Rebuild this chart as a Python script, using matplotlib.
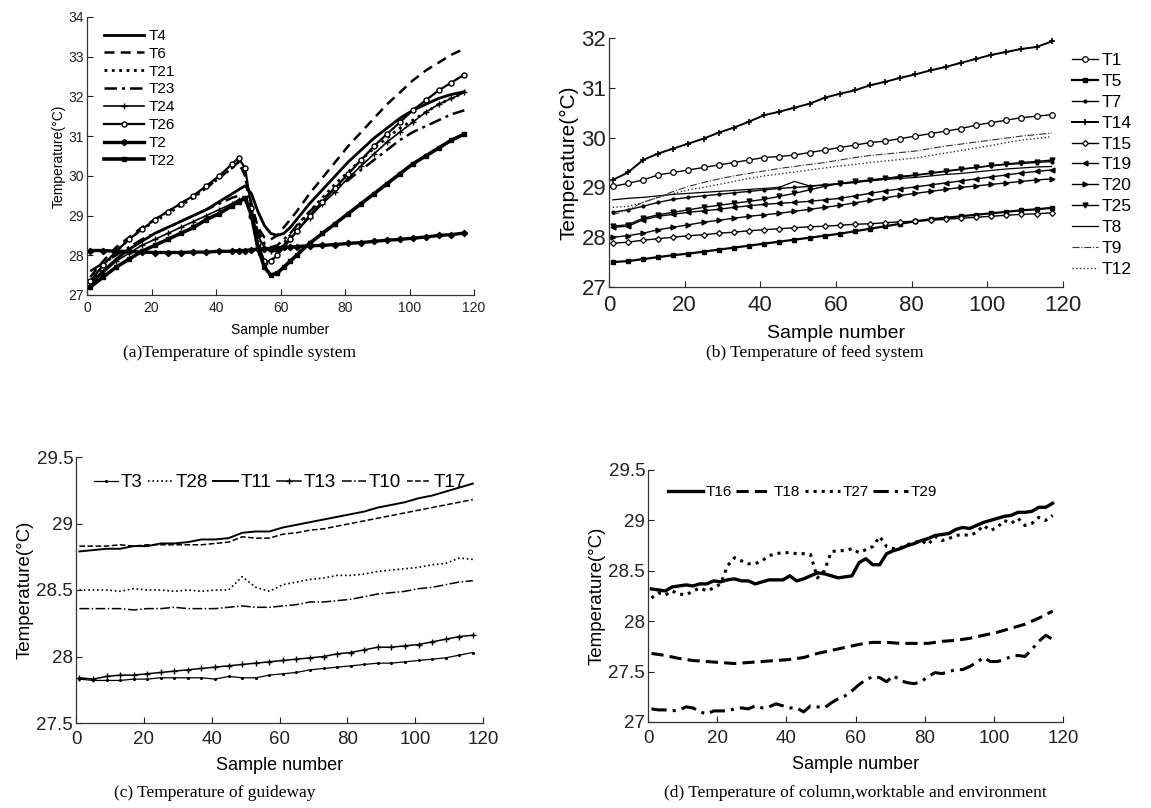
import matplotlib
matplotlib.use('Agg')
import matplotlib.pyplot as plt

plt.rcParams['font.family'] = ['Liberation Sans', 'DejaVu Sans']

# ---------------- Panel (a): spindle system ----------------
x_a = [1, 5, 9, 13, 17, 21, 25, 29, 33, 37, 41, 45, 47, 49, 51, 53, 55, 57, 59, 61, 63, 65,
       69, 73, 77, 81, 85, 89, 93, 97, 101, 105, 109, 113, 117]
T4 = [27.3, 27.6, 27.9, 28.15, 28.35, 28.55, 28.7, 28.85, 29.0, 29.15, 29.35, 29.55, 29.65, 29.75,
      29.55, 29.1, 28.75, 28.55, 28.5, 28.55, 28.7, 28.9, 29.3, 29.65, 30.0, 30.35, 30.65, 30.95,
      31.2, 31.45, 31.65, 31.8, 31.95, 32.05, 32.12]
T6 = [27.45, 27.85, 28.2, 28.45, 28.7, 28.9, 29.1, 29.3, 29.5, 29.7, 29.95, 30.2, 30.35, 30.0,
      29.3, 28.7, 28.45, 28.4, 28.5, 28.7, 28.9, 29.1, 29.55, 29.95, 30.35, 30.75, 31.1, 31.45,
      31.8, 32.1, 32.4, 32.65, 32.85, 33.05, 33.2]
T21 = [27.3, 27.7, 28.1, 28.4, 28.65, 28.85, 29.05, 29.25, 29.45, 29.7, 29.95, 30.2, 30.35, 30.05,
       29.0, 28.1, 27.75, 27.85, 28.05, 28.3, 28.5, 28.7, 29.1, 29.45, 29.8, 30.1, 30.4, 30.7,
       30.95, 31.2, 31.4, 31.6, 31.8, 31.95, 32.1]
T23 = [27.6, 27.8, 28.0, 28.2, 28.4, 28.55, 28.7, 28.85, 29.0, 29.15, 29.3, 29.45, 29.5, 29.45,
       29.1, 28.6, 28.3, 28.2, 28.25, 28.4, 28.55, 28.75, 29.1, 29.4, 29.7, 29.9, 30.15, 30.4,
       30.65, 30.9, 31.1, 31.25, 31.4, 31.55, 31.65]
T24 = [27.25, 27.55, 27.85, 28.05, 28.25, 28.4, 28.55, 28.7, 28.85, 29.0, 29.15, 29.3, 29.4, 29.4,
       29.0, 28.5, 28.2, 28.1, 28.1, 28.25, 28.4, 28.6, 28.95, 29.3, 29.6, 29.95, 30.25, 30.55,
       30.85, 31.1, 31.35, 31.6, 31.8, 31.95, 32.1]
T26 = [27.35, 27.75, 28.1, 28.4, 28.65, 28.9, 29.1, 29.3, 29.5, 29.75, 30.0, 30.3, 30.45, 30.2,
       29.2, 28.3, 27.85, 27.85, 28.0, 28.2, 28.4, 28.6, 29.0, 29.35, 29.7, 30.05, 30.4, 30.75,
       31.05, 31.35, 31.65, 31.9, 32.15, 32.35, 32.55]
T2 = [28.12, 28.12, 28.1, 28.1, 28.08, 28.07, 28.07, 28.07, 28.08, 28.08, 28.1, 28.1, 28.12, 28.12,
      28.14, 28.15, 28.16, 28.17, 28.18, 28.2, 28.2, 28.22, 28.24, 28.25, 28.27, 28.3, 28.32, 28.35,
      28.38, 28.4, 28.43, 28.46, 28.5, 28.52, 28.56]
T22 = [27.2, 27.45, 27.7, 27.9, 28.1, 28.25, 28.4, 28.55, 28.7, 28.9, 29.05, 29.25, 29.35, 29.45,
       29.0, 28.2, 27.7, 27.5, 27.55, 27.7, 27.85, 28.0, 28.3, 28.55, 28.8, 29.05, 29.3, 29.55,
       29.8, 30.05, 30.3, 30.5, 30.7, 30.9, 31.05]

# ---------------- Panel (b): feed system ----------------
x_b = [1, 5, 9, 13, 17, 21, 25, 29, 33, 37, 41, 45, 49, 53, 57, 61, 65, 69, 73, 77, 81, 85, 89,
       93, 97, 101, 105, 109, 113, 117]
T1 = [29.02, 29.08, 29.15, 29.25, 29.3, 29.35, 29.4, 29.45, 29.5, 29.55, 29.6, 29.62, 29.65, 29.7,
      29.75, 29.8, 29.85, 29.9, 29.93, 29.98, 30.03, 30.08, 30.13, 30.18, 30.25, 30.3, 30.35, 30.4,
      30.43, 30.46]
T5 = [27.5, 27.52, 27.56, 27.6, 27.64, 27.67, 27.71, 27.75, 27.79, 27.83, 27.87, 27.91, 27.95, 27.99,
      28.03, 28.07, 28.12, 28.17, 28.22, 28.27, 28.32, 28.36, 28.39, 28.42, 28.45, 28.48, 28.51,
      28.54, 28.56, 28.59]
T7 = [28.5, 28.55, 28.62, 28.7, 28.76, 28.8, 28.83, 28.86, 28.89, 28.92, 28.95, 28.98, 29.0, 29.02,
      29.05, 29.07, 29.1, 29.14, 29.18, 29.22, 29.25, 29.29, 29.33, 29.37, 29.4, 29.43, 29.46, 29.48,
      29.5, 29.52]
T14 = [29.15, 29.3, 29.55, 29.68, 29.78, 29.88, 29.98, 30.1, 30.2, 30.32, 30.45, 30.52, 30.6, 30.68,
       30.8, 30.88, 30.95, 31.05, 31.12, 31.2, 31.27, 31.35, 31.42, 31.5, 31.58, 31.66, 31.72, 31.78,
       31.82, 31.93]
T15 = [27.88, 27.9, 27.94, 27.97, 28.0, 28.03, 28.05, 28.08, 28.1, 28.13, 28.15, 28.17, 28.19, 28.21,
       28.22, 28.24, 28.26, 28.27, 28.29, 28.31, 28.32, 28.34, 28.36, 28.38, 28.4, 28.42, 28.44, 28.46,
       28.47, 28.49]
T19 = [28.2, 28.22, 28.35, 28.42, 28.46, 28.5, 28.53, 28.56, 28.6, 28.63, 28.66, 28.68, 28.7, 28.72,
       28.75, 28.78, 28.83, 28.88, 28.93, 28.97, 29.01, 29.05, 29.09, 29.13, 29.17, 29.21, 29.25,
       29.29, 29.32, 29.35]
T20 = [28.0, 28.03, 28.08, 28.15, 28.2, 28.25, 28.3, 28.34, 28.38, 28.42, 28.45, 28.48, 28.52, 28.56,
       28.6, 28.64, 28.69, 28.74, 28.79, 28.84, 28.88, 28.92, 28.96, 29.0, 29.03, 29.06, 29.09, 29.12,
       29.15, 29.17]
T25 = [28.22, 28.25, 28.38, 28.45, 28.5, 28.55, 28.6, 28.64, 28.68, 28.72, 28.76, 28.82, 28.88, 28.95,
       29.02, 29.08, 29.12, 29.15, 29.18, 29.21, 29.24, 29.28, 29.32, 29.36, 29.4, 29.44, 29.47, 29.5,
       29.52, 29.55]
T8 = [28.75, 28.78, 28.8, 28.83, 28.86, 28.88, 28.9, 28.92, 28.94, 28.96, 28.98, 29.0, 29.12, 29.03,
      29.05, 29.08, 29.1, 29.13, 29.16, 29.18, 29.2, 29.23, 29.26, 29.28, 29.31, 29.34, 29.37, 29.39,
      29.41, 29.42]
T9 = [28.45, 28.55, 28.7, 28.8, 28.92, 29.02, 29.1, 29.17, 29.23, 29.28, 29.33, 29.38, 29.42, 29.46,
      29.5, 29.55, 29.6, 29.64, 29.67, 29.7, 29.73, 29.78, 29.83, 29.87, 29.91, 29.95, 29.99, 30.03,
      30.06, 30.09]
T12 = [28.6, 28.62, 28.7, 28.8, 28.88, 28.95, 29.0, 29.06, 29.12, 29.18, 29.23, 29.27, 29.31, 29.35,
       29.39, 29.43, 29.46, 29.5, 29.53, 29.56, 29.59, 29.64, 29.69, 29.74, 29.79, 29.84, 29.9, 29.95,
       29.98, 30.02]

# ---------------- Panel (c): guideway ----------------
x_c = x_b
T3 = [27.83, 27.82, 27.82, 27.82, 27.83, 27.83, 27.84, 27.84, 27.84, 27.84, 27.83, 27.85, 27.84,
      27.84, 27.86, 27.87, 27.88, 27.9, 27.91, 27.92, 27.93, 27.94, 27.95, 27.95, 27.96, 27.97,
      27.98, 27.99, 28.01, 28.03]
T28 = [28.5, 28.5, 28.5, 28.49, 28.51, 28.5, 28.5, 28.49, 28.5, 28.49, 28.5, 28.5, 28.6, 28.52,
       28.49, 28.54, 28.56, 28.58, 28.59, 28.61, 28.61, 28.62, 28.64, 28.65, 28.66, 28.67, 28.69,
       28.7, 28.74, 28.73]
T11 = [28.79, 28.8, 28.81, 28.81, 28.83, 28.83, 28.85, 28.85, 28.86, 28.88, 28.88, 28.89, 28.93,
       28.94, 28.94, 28.97, 28.99, 29.01, 29.03, 29.05, 29.07, 29.09, 29.12, 29.14, 29.16, 29.19,
       29.21, 29.24, 29.27, 29.3]
T13 = [27.84, 27.83, 27.85, 27.86, 27.86, 27.87, 27.88, 27.89, 27.9, 27.91, 27.92, 27.93, 27.94,
       27.95, 27.96, 27.97, 27.98, 27.99, 28.0, 28.02, 28.03, 28.05, 28.07, 28.07, 28.08, 28.09,
       28.11, 28.13, 28.15, 28.16]
T10 = [28.36, 28.36, 28.36, 28.36, 28.35, 28.36, 28.36, 28.37, 28.36, 28.36, 28.36, 28.37, 28.38,
       28.37, 28.37, 28.38, 28.39, 28.41, 28.41, 28.42, 28.43, 28.45, 28.47, 28.48, 28.49, 28.51,
       28.52, 28.54, 28.56, 28.57]
T17 = [28.83, 28.83, 28.83, 28.84, 28.83, 28.84, 28.84, 28.84, 28.84, 28.84, 28.85, 28.86, 28.9,
       28.89, 28.89, 28.92, 28.93, 28.95, 28.96, 28.98, 29.0, 29.02, 29.04, 29.06, 29.08, 29.1,
       29.12, 29.14, 29.16, 29.18]

# ---------------- Panel (d): column, worktable, environment ----------------
x_d = list(range(1, 118, 2))
T16 = [28.32, 28.31, 28.3, 28.34, 28.35, 28.36, 28.35, 28.37, 28.37, 28.4, 28.39, 28.41, 28.42,
       28.4, 28.4, 28.37, 28.39, 28.41, 28.41, 28.41, 28.45, 28.4, 28.42, 28.45, 28.48, 28.47,
       28.45, 28.43, 28.44, 28.45, 28.58, 28.62, 28.56, 28.56, 28.67, 28.7, 28.72, 28.75, 28.77,
       28.8, 28.82, 28.85, 28.86, 28.87, 28.91, 28.93, 28.92, 28.95, 28.98, 29.0, 29.02, 29.04,
       29.05, 29.08, 29.08, 29.09, 29.13, 29.13, 29.17]
T27 = [28.23, 28.28, 28.26, 28.3, 28.27, 28.26, 28.3, 28.33, 28.3, 28.33, 28.37, 28.55, 28.63,
       28.6, 28.57, 28.57, 28.6, 28.65, 28.67, 28.68, 28.68, 28.67, 28.67, 28.66, 28.43, 28.5,
       28.69, 28.7, 28.7, 28.72, 28.68, 28.71, 28.74, 28.84, 28.74, 28.72, 28.73, 28.76, 28.78,
       28.8, 28.76, 28.84, 28.8, 28.82, 28.85, 28.86, 28.85, 28.88, 28.95, 28.9, 28.93, 29.0,
       28.97, 29.02, 28.95, 28.97, 29.03, 29.0, 29.05]
T29 = [27.13, 27.12, 27.12, 27.11, 27.12, 27.15, 27.14, 27.1, 27.08, 27.11, 27.11, 27.11, 27.13,
       27.14, 27.13, 27.16, 27.14, 27.15, 27.18, 27.16, 27.14, 27.14, 27.1, 27.16, 27.15, 27.14,
       27.19, 27.23, 27.26, 27.31, 27.37, 27.42, 27.45, 27.44, 27.4, 27.46, 27.41, 27.39, 27.38,
       27.4, 27.45, 27.49, 27.48, 27.5, 27.52, 27.52, 27.55, 27.59, 27.64, 27.6, 27.6, 27.62,
       27.65, 27.66, 27.65, 27.72, 27.8, 27.86, 27.82]
x_d18 = x_b
T18 = [27.68, 27.66, 27.63, 27.61, 27.6, 27.59, 27.58, 27.59, 27.6, 27.61, 27.62, 27.64, 27.68,
       27.71, 27.74, 27.77, 27.79, 27.79, 27.78, 27.78, 27.78, 27.8, 27.81, 27.83, 27.86, 27.89,
       27.93, 27.97, 28.03, 28.1]

W, H = 1151, 808
fig = plt.figure(figsize=(W / 100, H / 100), dpi=100)


def add_axes(l, t, r, b):
    return fig.add_axes([l / W, 1 - b / H, (r - l) / W, (b - t) / H])


def style(ax, fs, xlim, ylim, yticks, ylabel_fs, xlabel_fs, xpad, xlabpad):
    for s in ['top', 'right']:
        ax.spines[s].set_visible(False)
    for s in ['left', 'bottom']:
        ax.spines[s].set_color('#333333')
        ax.spines[s].set_linewidth(0.9)
    ax.tick_params(direction='in', length=4, width=0.8, labelsize=fs,
                   colors='#222222')
    ax.tick_params(axis='y', pad=2)
    ax.tick_params(axis='x', pad=xpad)
    ax.set_xlim(*xlim)
    ax.set_ylim(*ylim)
    ax.set_xticks(range(0, 121, 20))
    ax.set_yticks(yticks)
    ax.set_yticklabels(['%g' % v for v in yticks])
    ax.set_ylabel('Temperature(°C)', fontsize=ylabel_fs, labelpad=2)
    ax.set_xlabel('Sample number', fontsize=xlabel_fs, labelpad=xlabpad)


K = 'black'

# ---- (a)
ax = add_axes(87, 17, 474, 295)
ax.plot(x_a, T4, '-', color=K, lw=2.0, label='T4')
ax.plot(x_a, T6, '--', color=K, lw=1.8, dashes=(4, 2.5), label='T6')
ax.plot(x_a, T21, ':', color=K, lw=2.0, label='T21')
ax.plot(x_a, T23, '-.', color=K, lw=1.8, dashes=(5, 2, 1.2, 2), label='T23')
ax.plot(x_a, T24, '-', color=K, lw=1.2, marker='+', ms=4, mew=1.0, label='T24')
ax.plot(x_a, T26, '-', color=K, lw=1.6, marker='o', ms=3.6, mfc='white', mew=1.0, label='T26')
ax.plot(x_a, T2, '-', color=K, lw=2.4, marker='D', ms=3.2, label='T2')
ax.plot(x_a, T22, '-', color=K, lw=2.6, marker='s', ms=2.5, label='T22')
style(ax, 10, (0, 120), (27, 34), list(range(27, 35)), 10, 10, 4, 6)
ax.legend(loc='upper left', bbox_to_anchor=(0.02, 0.99), frameon=False, fontsize=11,
          handlelength=2.6, handletextpad=0.3, labelspacing=0.25, borderaxespad=0.2)

# ---- (b)
ax = add_axes(609, 38, 1063, 287)
ax.plot(x_b, T1, '-', color=K, lw=1.0, marker='o', ms=4, mfc='white', mew=0.9, label='T1')
ax.plot(x_b, T5, '-', color=K, lw=1.6, marker='s', ms=2.8, label='T5')
ax.plot(x_b, T7, '-', color=K, lw=1.0, marker='.', ms=4, label='T7')
ax.plot(x_b, T14, '-', color=K, lw=1.4, marker='+', ms=5, mew=1.2, label='T14')
ax.plot(x_b, T15, '-', color=K, lw=1.0, marker='D', ms=3, mfc='white', mew=0.9, label='T15')
ax.plot(x_b, T19, '-', color=K, lw=1.0, marker='<', ms=3.5, label='T19')
ax.plot(x_b, T20, '-', color=K, lw=1.0, marker='>', ms=3.5, label='T20')
ax.plot(x_b, T25, '-', color=K, lw=1.0, marker='v', ms=3.5, label='T25')
ax.plot(x_b, T8, '-', color=K, lw=0.9, label='T8')
ax.plot(x_b, T9, '-.', color='#333333', lw=0.8, label='T9')
ax.plot(x_b, T12, ':', color='#333333', lw=1.0, label='T12')
style(ax, 16, (0, 120), (27, 32), list(range(27, 33)), 15, 14, 6, 6)
ax.legend(loc='upper left', bbox_to_anchor=(1.0, 0.975), frameon=False, fontsize=12.5,
          handlelength=1.5, handletextpad=0.2, labelspacing=0.33, borderaxespad=0.1)

# ---- (c)
ax = add_axes(76, 457, 483, 723)
ax.plot(x_c, T3, '-', color=K, lw=0.9, marker='.', ms=2.5, label='T3')
ax.plot(x_c, T28, ':', color=K, lw=1.2, label='T28')
ax.plot(x_c, T11, '-', color=K, lw=1.4, label='T11')
ax.plot(x_c, T13, '-', color=K, lw=1.1, marker='+', ms=4, mew=1.0, label='T13')
ax.plot(x_c, T10, '-.', color=K, lw=1.1, label='T10')
ax.plot(x_c, T17, '--', color=K, lw=1.1, label='T17')
style(ax, 13.5, (0, 120), (27.5, 29.5), [27.5, 28, 28.5, 29, 29.5], 13.5, 13, 6, 6)
ax.legend(loc='upper left', bbox_to_anchor=(0.02, 0.97), frameon=False, fontsize=13.5,
          ncol=6, handlelength=1.3, handletextpad=0.15, columnspacing=0.3, borderaxespad=0.1)

# ---- (d)
ax = add_axes(648, 470, 1063, 722)
ax.plot(x_d, T16, '-', color=K, lw=2.4, label='T16')
ax.plot(x_d18, T18, '--', color=K, lw=2.2, dashes=(4, 2), label='T18')
ax.plot(x_d, T27, ':', color=K, lw=2.2, label='T27')
ax.plot(x_d, T29, '-.', color=K, lw=2.2, dashes=(5, 2, 1, 2), label='T29')
style(ax, 13.5, (0, 120), (27, 29.5), [27, 27.5, 28, 28.5, 29, 29.5], 13.5, 13, 6, 6)
ax.legend(loc='upper left', bbox_to_anchor=(0.03, 0.97), frameon=False, fontsize=11,
          ncol=4, handlelength=2.3, handletextpad=0.15, columnspacing=0.3, borderaxespad=0.1)

# ---- captions
cap = dict(family=['Liberation Serif', 'DejaVu Serif'], fontsize=12.5, ha='center', va='center')
fig.text(240 / W, 1 - 353 / H, '(a)Temperature of spindle system', **cap)
fig.text(815 / W, 1 - 353 / H, '(b) Temperature of feed system', **cap)
fig.text(215 / W, 1 - 793 / H, '(c) Temperature of guideway', **cap)
fig.text(855 / W, 1 - 793 / H, '(d) Temperature of column,worktable and environment', **cap)

fig.savefig('out.png', dpi=100)
